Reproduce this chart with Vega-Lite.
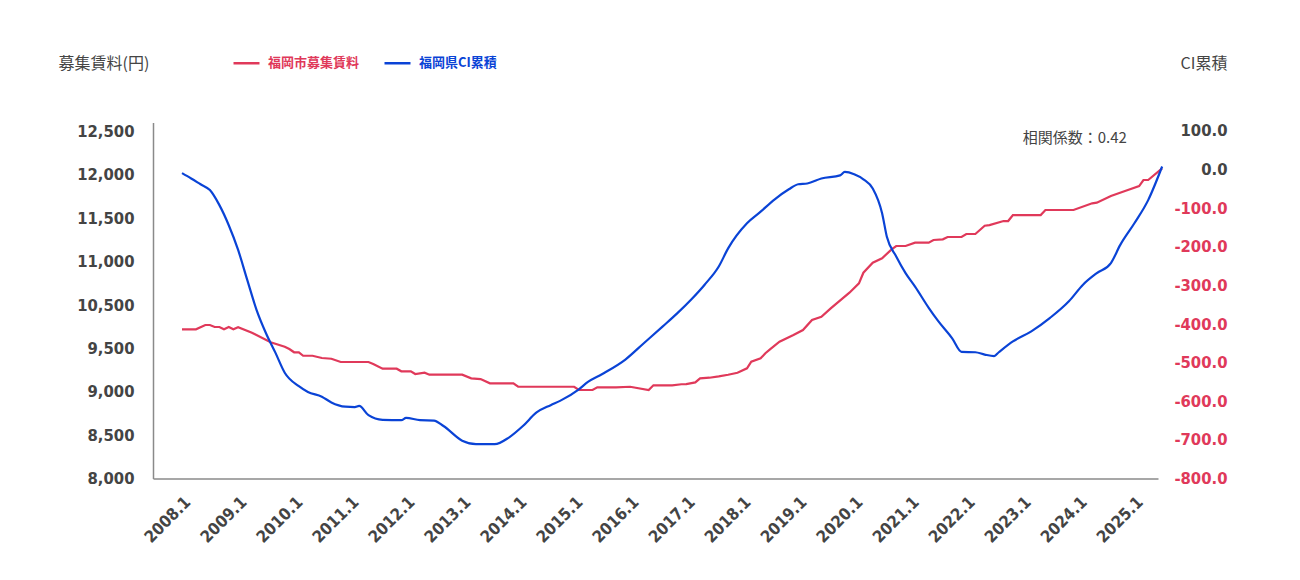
{
  "$schema": "https://vega.github.io/schema/vega-lite/v6.json",
  "width": 1005,
  "height": 356,
  "autosize": {"type": "none"},
  "padding": {"left": 153, "top": 122.5, "right": 142, "bottom": 101.5},
  "background": "white",
  "config": {
    "view": {"stroke": null},
    "axis": {
      "grid": false,
      "ticks": false,
      "labelFont": "DejaVu Sans Condensed, Liberation Sans Narrow, Roboto",
      "labelFontWeight": "bold",
      "labelFontSize": 16.5,
      "labelColor": "#444444",
      "domainColor": "#8a8a8a",
      "domainWidth": 1.5,
      "titleFont": "Noto Sans CJK JP",
      "titleFontWeight": "normal",
      "titleFontSize": 16,
      "titleColor": "#444444"
    }
  },
  "datasets": {
    "rent": [
      {"date": "2008-01-01", "value": 9935}, {"date": "2008-04-01", "value": 9935}, {"date": "2008-06-01", "value": 9991}, {"date": "2008-07-01", "value": 9991},
      {"date": "2008-08-01", "value": 9965}, {"date": "2008-09-01", "value": 9965}, {"date": "2008-10-01", "value": 9935}, {"date": "2008-11-01", "value": 9965},
      {"date": "2008-12-01", "value": 9935}, {"date": "2009-01-01", "value": 9961}, {"date": "2009-04-01", "value": 9891}, {"date": "2009-08-01", "value": 9766},
      {"date": "2009-11-01", "value": 9709}, {"date": "2009-12-01", "value": 9679}, {"date": "2010-01-01", "value": 9637}, {"date": "2010-02-01", "value": 9637},
      {"date": "2010-03-01", "value": 9592}, {"date": "2010-05-01", "value": 9592}, {"date": "2010-07-01", "value": 9563}, {"date": "2010-09-01", "value": 9553},
      {"date": "2010-11-01", "value": 9511}, {"date": "2011-05-01", "value": 9511}, {"date": "2011-06-01", "value": 9485}, {"date": "2011-08-01", "value": 9424},
      {"date": "2011-11-01", "value": 9424}, {"date": "2011-12-01", "value": 9390}, {"date": "2012-02-01", "value": 9390}, {"date": "2012-03-01", "value": 9355},
      {"date": "2012-05-01", "value": 9372}, {"date": "2012-06-01", "value": 9346}, {"date": "2013-01-01", "value": 9346}, {"date": "2013-03-01", "value": 9299},
      {"date": "2013-05-01", "value": 9290}, {"date": "2013-07-01", "value": 9234}, {"date": "2013-12-01", "value": 9234}, {"date": "2014-01-01", "value": 9190},
      {"date": "2015-01-01", "value": 9190}, {"date": "2015-02-01", "value": 9148}, {"date": "2015-05-01", "value": 9148}, {"date": "2015-06-01", "value": 9183},
      {"date": "2015-10-01", "value": 9183}, {"date": "2016-01-01", "value": 9190}, {"date": "2016-05-01", "value": 9148}, {"date": "2016-06-01", "value": 9209},
      {"date": "2016-10-01", "value": 9209}, {"date": "2016-12-01", "value": 9222}, {"date": "2017-01-01", "value": 9225}, {"date": "2017-03-01", "value": 9247},
      {"date": "2017-04-01", "value": 9299}, {"date": "2017-06-01", "value": 9307}, {"date": "2017-08-01", "value": 9325}, {"date": "2017-10-01", "value": 9346},
      {"date": "2017-12-01", "value": 9372}, {"date": "2018-02-01", "value": 9429}, {"date": "2018-03-01", "value": 9515}, {"date": "2018-05-01", "value": 9559},
      {"date": "2018-06-01", "value": 9624}, {"date": "2018-07-01", "value": 9675}, {"date": "2018-09-01", "value": 9774}, {"date": "2018-12-01", "value": 9861},
      {"date": "2019-02-01", "value": 9926}, {"date": "2019-04-01", "value": 10055}, {"date": "2019-06-01", "value": 10098}, {"date": "2019-08-01", "value": 10207},
      {"date": "2019-12-01", "value": 10410}, {"date": "2020-02-01", "value": 10531}, {"date": "2020-03-01", "value": 10669}, {"date": "2020-05-01", "value": 10798},
      {"date": "2020-07-01", "value": 10856}, {"date": "2020-09-01", "value": 10972}, {"date": "2020-10-01", "value": 11015}, {"date": "2020-12-01", "value": 11015},
      {"date": "2021-02-01", "value": 11058}, {"date": "2021-05-01", "value": 11058}, {"date": "2021-06-01", "value": 11093}, {"date": "2021-08-01", "value": 11102},
      {"date": "2021-09-01", "value": 11132}, {"date": "2021-12-01", "value": 11132}, {"date": "2022-01-01", "value": 11171}, {"date": "2022-03-01", "value": 11171},
      {"date": "2022-05-01", "value": 11278}, {"date": "2022-06-01", "value": 11287}, {"date": "2022-09-01", "value": 11339}, {"date": "2022-10-01", "value": 11339},
      {"date": "2022-11-01", "value": 11417}, {"date": "2023-05-01", "value": 11417}, {"date": "2023-06-01", "value": 11482}, {"date": "2023-12-01", "value": 11482},
      {"date": "2024-04-01", "value": 11569}, {"date": "2024-05-01", "value": 11577}, {"date": "2024-08-01", "value": 11663}, {"date": "2024-11-01", "value": 11728},
      {"date": "2025-02-01", "value": 11793}, {"date": "2025-03-01", "value": 11871}, {"date": "2025-04-01", "value": 11871}, {"date": "2025-07-01", "value": 12023}
    ],
    "ci": [
      {"date": "2008-01-01", "value": -9}, {"date": "2008-03-01", "value": -23}, {"date": "2008-05-01", "value": -38}, {"date": "2008-07-01", "value": -53},
      {"date": "2008-09-01", "value": -92}, {"date": "2008-11-01", "value": -144}, {"date": "2009-01-01", "value": -208}, {"date": "2009-03-01", "value": -285},
      {"date": "2009-05-01", "value": -363}, {"date": "2009-07-01", "value": -423}, {"date": "2009-09-01", "value": -474}, {"date": "2009-11-01", "value": -526},
      {"date": "2010-02-01", "value": -561}, {"date": "2010-04-01", "value": -576}, {"date": "2010-07-01", "value": -588}, {"date": "2010-09-01", "value": -603},
      {"date": "2010-12-01", "value": -614}, {"date": "2011-02-01", "value": -615}, {"date": "2011-03-01", "value": -612}, {"date": "2011-05-01", "value": -636},
      {"date": "2011-08-01", "value": -648}, {"date": "2011-12-01", "value": -649}, {"date": "2012-01-01", "value": -643}, {"date": "2012-04-01", "value": -649},
      {"date": "2012-07-01", "value": -650}, {"date": "2012-09-01", "value": -664}, {"date": "2013-01-01", "value": -702}, {"date": "2013-04-01", "value": -711},
      {"date": "2013-08-01", "value": -711}, {"date": "2013-11-01", "value": -694}, {"date": "2014-02-01", "value": -664}, {"date": "2014-05-01", "value": -629},
      {"date": "2014-08-01", "value": -610}, {"date": "2014-10-01", "value": -599}, {"date": "2015-02-01", "value": -569}, {"date": "2015-04-01", "value": -550},
      {"date": "2015-07-01", "value": -530}, {"date": "2015-12-01", "value": -492}, {"date": "2016-04-01", "value": -449}, {"date": "2016-08-01", "value": -406},
      {"date": "2016-11-01", "value": -373}, {"date": "2017-02-01", "value": -337}, {"date": "2017-05-01", "value": -298}, {"date": "2017-08-01", "value": -251},
      {"date": "2017-10-01", "value": -204}, {"date": "2018-02-01", "value": -139}, {"date": "2018-05-01", "value": -109}, {"date": "2018-08-01", "value": -77},
      {"date": "2018-11-01", "value": -51}, {"date": "2019-01-01", "value": -38}, {"date": "2019-03-01", "value": -36}, {"date": "2019-06-01", "value": -23},
      {"date": "2019-10-01", "value": -15}, {"date": "2019-11-01", "value": -6}, {"date": "2020-01-01", "value": -12}, {"date": "2020-03-01", "value": -25},
      {"date": "2020-05-01", "value": -49}, {"date": "2020-07-01", "value": -113}, {"date": "2020-08-01", "value": -174}, {"date": "2020-10-01", "value": -225},
      {"date": "2020-12-01", "value": -268}, {"date": "2021-02-01", "value": -303}, {"date": "2021-05-01", "value": -358}, {"date": "2021-07-01", "value": -392},
      {"date": "2021-10-01", "value": -437}, {"date": "2021-12-01", "value": -472}, {"date": "2022-03-01", "value": -473}, {"date": "2022-05-01", "value": -479},
      {"date": "2022-07-01", "value": -483}, {"date": "2022-08-01", "value": -473}, {"date": "2022-11-01", "value": -445}, {"date": "2023-03-01", "value": -419},
      {"date": "2023-07-01", "value": -384}, {"date": "2023-11-01", "value": -341}, {"date": "2024-02-01", "value": -298}, {"date": "2024-05-01", "value": -268},
      {"date": "2024-08-01", "value": -242}, {"date": "2024-10-01", "value": -195}, {"date": "2025-01-01", "value": -139}, {"date": "2025-04-01", "value": -79},
      {"date": "2025-07-01", "value": 8}
    ]
  },
  "layer": [
    {
      "layer": [
        {
          "data": {"name": "rent"},
          "mark": {"type": "line", "strokeWidth": 2.2},
          "encoding": {
            "x": {
              "field": "date", "type": "temporal",
              "scale": {"type": "utc", "domain": [{"year": 2007, "month": 6, "date": 26, "utc": true}, {"year": 2025, "month": 6, "date": 4, "utc": true}]},
              "axis": {
                "title": null, "format": "%Y.%-m", "labelAngle": -45, "labelPadding": 15, "labelFontSize": 16.5, "labelOverlap": false,
                "values": [
                  {"year": 2008, "month": 1, "date": 1, "utc": true}, {"year": 2009, "month": 1, "date": 1, "utc": true}, {"year": 2010, "month": 1, "date": 1, "utc": true},
                  {"year": 2011, "month": 1, "date": 1, "utc": true}, {"year": 2012, "month": 1, "date": 1, "utc": true}, {"year": 2013, "month": 1, "date": 1, "utc": true},
                  {"year": 2014, "month": 1, "date": 1, "utc": true}, {"year": 2015, "month": 1, "date": 1, "utc": true}, {"year": 2016, "month": 1, "date": 1, "utc": true},
                  {"year": 2017, "month": 1, "date": 1, "utc": true}, {"year": 2018, "month": 1, "date": 1, "utc": true}, {"year": 2019, "month": 1, "date": 1, "utc": true},
                  {"year": 2020, "month": 1, "date": 1, "utc": true}, {"year": 2021, "month": 1, "date": 1, "utc": true}, {"year": 2022, "month": 1, "date": 1, "utc": true},
                  {"year": 2023, "month": 1, "date": 1, "utc": true}, {"year": 2024, "month": 1, "date": 1, "utc": true}, {"year": 2025, "month": 1, "date": 1, "utc": true}
                ]
              }
            },
            "y": {
              "field": "value", "type": "quantitative",
              "scale": {"domain": [8000, 12617], "nice": false, "zero": false},
              "axis": {
                "title": "募集賃料(円)", "titleAngle": 0, "titleX": -95, "titleY": -59.5, "titleAlign": "left", "titleBaseline": "middle",
                "labelPadding": 19,
                "values": [8000, 8562.5, 9125, 9687.5, 10250, 10812.5, 11375, 11937.5, 12500],
                "labelExpr": "['8,000','8,500','9,000','9,500','10,500','11,000','11,500','12,000','12,500'][round((datum.value - 8000) / 562.5)]"
              }
            },
            "color": {
              "datum": "福岡市募集賃料",
              "scale": {"domain": ["福岡市募集賃料", "福岡県CI累積"], "range": ["#e0395a", "#0a43d6"]},
              "legend": {
                "orient": "none", "legendX": 79, "legendY": -74, "direction": "horizontal", "title": null,
                "symbolType": "stroke", "symbolSize": 676, "symbolStrokeWidth": 2.5,
                "labelFont": "Noto Sans CJK JP", "labelFontSize": 13, "labelFontWeight": "bold", "labelOffset": 7,
                "columnPadding": 19, "labelLimit": 300,
                "labelColor": {"expr": "datum.label == '福岡市募集賃料' ? '#e0395a' : '#0a43d6'"}
              }
            }
          }
        },
        {
          "data": {"values": [{}]},
          "mark": {"type": "text", "font": "Noto Sans CJK JP", "fontSize": 15, "color": "#444444", "align": "center", "baseline": "middle"},
          "encoding": {
            "x": {"datum": {"year": 2023, "month": 12, "date": 10, "utc": true}, "type": "temporal"},
            "y": {"datum": 12416, "type": "quantitative"},
            "text": {"value": "相関係数：0.42"}
          }
        }
      ]
    },
    {
      "data": {"name": "ci"},
      "mark": {"type": "line", "strokeWidth": 2.2, "interpolate": "monotone"},
      "encoding": {
        "x": {"field": "date", "type": "temporal"},
        "y": {
          "field": "value", "type": "quantitative",
          "scale": {"domain": [-800, 122], "nice": false, "zero": false},
          "axis": {
            "orient": "right", "domain": false, "format": ".1f", "labelAlign": "right", "labelPadding": 69,
            "labelExpr": "replace(datum.label, '\u2212', '-')",
            "values": [-800, -700, -600, -500, -400, -300, -200, -100, 0, 100],
            "labelColor": {"condition": {"test": "datum.value < 0", "value": "#e0395a"}, "value": "#444444"},
            "title": "CI累積", "titleAngle": 0, "titleX": 69, "titleY": -59.5, "titleAlign": "right", "titleBaseline": "middle"
          }
        },
        "color": {
          "datum": "福岡県CI累積",
          "scale": {"domain": ["福岡市募集賃料", "福岡県CI累積"], "range": ["#e0395a", "#0a43d6"]}
        }
      }
    }
  ],
  "resolve": {"scale": {"y": "independent"}}
}
